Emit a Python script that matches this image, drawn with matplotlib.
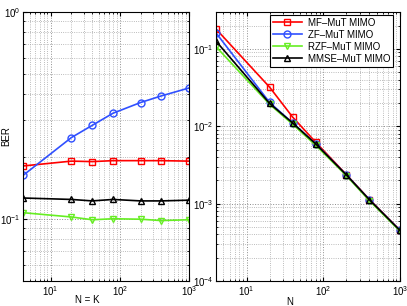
import numpy as np
import matplotlib
matplotlib.use("Agg")
import matplotlib.pyplot as plt
from matplotlib.ticker import LogLocator, NullFormatter

plt.rcParams['font.family'] = ['Liberation Sans', 'DejaVu Sans']
plt.rcParams['mathtext.default'] = 'regular'

# Data
N = [4, 20, 40, 80, 200, 400, 1000]
labels = ['MF–MuT MIMO', 'ZF–MuT MIMO', 'RZF–MuT MIMO', 'MMSE–MuT MIMO']

# Left panel: N = K
left_mf = [0.180, 0.190, 0.189, 0.191, 0.191, 0.191, 0.190]
left_zf = [0.162, 0.247, 0.283, 0.324, 0.365, 0.393, 0.429]
left_rzf = [0.107, 0.102, 0.0989, 0.100, 0.0995, 0.098, 0.0989]
left_mmse = [0.126, 0.124, 0.122, 0.124, 0.122, 0.122, 0.123]

# Right panel: N varying
right_mf = [0.181, 0.032, 0.0131, 0.0062, 0.00237, 0.00113, 0.000452]
right_zf = [0.161, 0.0203, 0.0110, 0.0059, 0.00235, 0.00112, 0.000450]
right_rzf = [0.107, 0.0192, 0.0106, 0.00565, 0.00230, 0.00109, 0.000440]
right_mmse = [0.126, 0.0197, 0.0110, 0.0059, 0.00235, 0.00112, 0.000450]

colors = ['#ff0000', '#3050ff', '#66ee22', '#000000']
markers = ['s', 'o', 'v', '^']

fig = plt.figure(figsize=(4.07, 3.06), dpi=100)
W, H = 407, 306
axL = fig.add_axes([23 / W, 25 / H, 166 / W, 269 / H])
axR = fig.add_axes([216 / W, 25 / H, 184 / W, 269 / H])

def style(ax):
    ax.set_xscale('log')
    ax.set_yscale('log')
    ax.grid(True, which='major', linestyle=':', color='0.55', linewidth=0.7)
    ax.grid(True, which='minor', linestyle=':', color='0.65', linewidth=0.6)
    ax.tick_params(which='both', direction='in', top=True, right=True, labelsize=7, pad=2)
    ax.tick_params(which='major', length=3)
    ax.tick_params(which='minor', length=1.5)
    ax.xaxis.set_minor_locator(LogLocator(base=10, subs=np.arange(2, 10)))
    ax.yaxis.set_minor_locator(LogLocator(base=10, subs=np.arange(2, 10)))
    ax.xaxis.set_minor_formatter(NullFormatter())
    ax.yaxis.set_minor_formatter(NullFormatter())
    for s in ax.spines.values():
        s.set_linewidth(0.8)

for ax, series in [(axL, [left_mf, left_zf, left_rzf, left_mmse]),
                   (axR, [right_mf, right_zf, right_rzf, right_mmse])]:
    for y, c, m, lab in zip(series, colors, markers, labels):
        ax.plot(N, y, color=c, marker=m, markersize=5, markerfacecolor='none',
                markeredgecolor=c, markeredgewidth=1.0, linewidth=1.2, label=lab)
    style(ax)
    ax.set_xlim(4, 1000)

axL.set_ylim(0.05, 1)
axR.set_ylim(1e-4, 0.3)
axL.set_ylabel('BER', fontsize=7, va='center')
axL.yaxis.set_label_coords(-0.099, 0.539)
axL.set_xlabel('N = K', fontsize=7, va='center')
axL.xaxis.set_label_coords(0.385, -0.071)
axR.set_xlabel('N', fontsize=7, va='center')
axR.xaxis.set_label_coords(0.40, -0.077)

leg = axR.legend(loc='upper right', bbox_to_anchor=(0.962, 0.989), borderaxespad=0,
                 fontsize=7, handlelength=3, fancybox=False, framealpha=1,
                 edgecolor='black', borderpad=0.3, labelspacing=0.2, handletextpad=0.6)
leg.get_frame().set_linewidth(0.8)

fig.savefig('out.png', dpi=100)
